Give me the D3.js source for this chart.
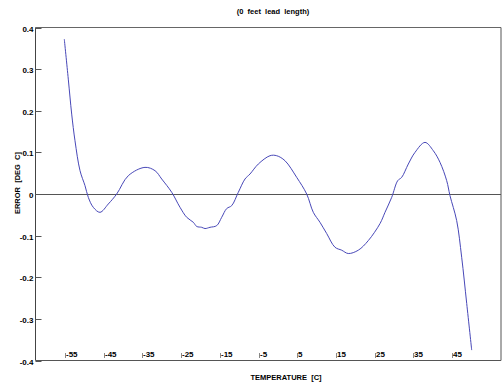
<!DOCTYPE html>
<html><head><meta charset="utf-8">
<script src="https://cdn.jsdelivr.net/npm/d3@7"></script>
<style>
body{margin:0;background:#fff;}
text{font-family:"Liberation Sans",Arial,sans-serif;font-weight:bold;fill:#000;}
</style></head><body>
<svg id="c" width="503" height="383"></svg>
<script>
const temps = [-55.18,-54.15,-53.27,-52.42,-51.12,-49.83,-48.98,-47.69,-45.96,-43.81,-41.64,-38.64,-34.33,-31.74,-30.01,-27.42,-25.28,-23.55,-21.84,-20.96,-19.68,-18.82,-17.53,-15.80,-14.51,-13.22,-11.93,-10.22,-8.49,-7.20,-5.05,-2.03,-0.30,1.84,4.87,7.45,9.16,10.89,12.62,14.77,16.50,18.20,20.79,23.37,26.40,27.69,29.42,30.97,32.00,33.71,35.44,38.02,40.17,41.90,43.63,44.48,46.21,47.50,48.80,50.09];
const errors = [0.372,0.276,0.192,0.128,0.056,0.020,-0.008,-0.032,-0.044,-0.024,0.000,0.044,0.064,0.056,0.036,0.004,-0.032,-0.056,-0.068,-0.078,-0.080,-0.083,-0.080,-0.076,-0.056,-0.035,-0.028,0.004,0.036,0.048,0.072,0.092,0.092,0.080,0.040,0.000,-0.044,-0.068,-0.095,-0.128,-0.135,-0.143,-0.135,-0.112,-0.071,-0.044,-0.008,0.032,0.040,0.072,0.100,0.124,0.104,0.076,0.032,-0.004,-0.064,-0.152,-0.263,-0.375];
const xTicks = [-55,-45,-35,-25,-15,-5,5,15,25,35,45];
const xTickLabels = ["-55","-45","-35","-25","-15","-5","5","15","25","35","45"];
const yTicks = [0.4,0.3,0.2,0.1,0,-0.1,-0.2,-0.3,-0.4];
const yTickLabels = ["0.4","0.3","0.2","0.1","0","-0.1","-0.2","-0.3","-0.4"];
const title = "(0  feet  lead  length)";
const xLabel = "TEMPERATURE  [C]";
const yLabel = "ERROR  [DEG  C]";

const svg = d3.select("#c");
const L = 35.5, R = 501, T = 27.5, B = 360.5;
const x = d3.scaleLinear().domain([-55,45]).range([65,452]);
const y = d3.scaleLinear().domain([-0.4,0.4]).range([B,T]);

// frame
svg.append("line").attr("x1",L).attr("x2",R).attr("y1",T).attr("y2",T).attr("stroke","#666");
svg.append("line").attr("x1",L).attr("x2",R).attr("y1",B).attr("y2",B).attr("stroke","#555");
svg.append("line").attr("x1",R).attr("x2",R).attr("y1",T).attr("y2",B).attr("stroke","#555");
svg.append("line").attr("x1",L).attr("x2",L).attr("y1",T).attr("y2",B).attr("stroke","#444");
// zero line
svg.append("line").attr("x1",L).attr("x2",R).attr("y1",Math.round(y(0))+0.5).attr("y2",Math.round(y(0))+0.5).attr("stroke","#555");

// y ticks
yTicks.forEach((v,i)=>{
  const yy = Math.round(y(v))+0.5;
  svg.append("line").attr("x1",L).attr("x2",L+6).attr("y1",yy).attr("y2",yy).attr("stroke","#555");
  svg.append("text").attr("x",L-2).attr("y",yy+3).attr("text-anchor","end")
    .attr("font-size","8px").text(yTickLabels[i]);
});
// x ticks
xTicks.forEach((v,i)=>{
  const xx = Math.round(x(v))+0.5;
  svg.append("line").attr("x1",xx).attr("x2",xx).attr("y1",353).attr("y2",358).attr("stroke","#888");
  svg.append("text").attr("x",xx+0.5).attr("y",357).attr("font-size","8px").text(xTickLabels[i]);
});

// curve
const data = temps.map((t,i)=>[t,errors[i]]);
svg.append("path").datum(data)
  .attr("d", d3.line().x(d=>x(d[0])).y(d=>y(d[1])).curve(d3.curveCatmullRom))
  .attr("fill","none").attr("stroke","#4848b8").attr("stroke-width",1);

// labels
svg.append("text").attr("x",273).attr("y",14).attr("text-anchor","middle")
  .attr("font-size","7.5px").style("white-space","pre").text(title);
svg.append("text").attr("x",286).attr("y",380).attr("text-anchor","middle")
  .attr("font-size","7.5px").style("white-space","pre").text(xLabel);
svg.append("text").attr("transform","translate(20,183) rotate(-90)").attr("text-anchor","middle")
  .attr("font-size","7.5px").style("white-space","pre").text(yLabel);
</script>
</body></html>
